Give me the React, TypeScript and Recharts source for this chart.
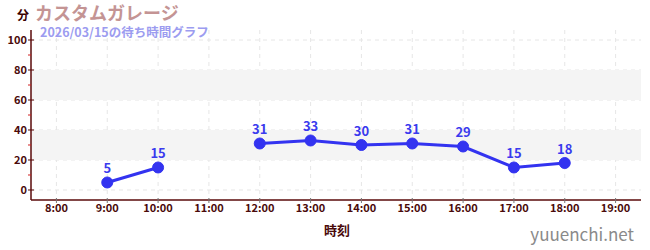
import { LineChart, Line, XAxis, YAxis, CartesianGrid, ReferenceArea, LabelList } from "recharts"

const hours = [8, 9, 10, 11, 12, 13, 14, 15, 16, 17, 18, 19]
const waits: (number | null)[] = [null, 5, 15, null, 31, 33, 30, 31, 29, 15, 18, null]
const yTicks = [0, 10, 20, 30, 40, 50, 60, 70, 80, 90, 100]
const yMajor = [0, 20, 40, 60, 80, 100]

const data = hours.map((h, i) => ({ hour: h, wait: waits[i] }))

const font = '"Noto Sans CJK JP", "Noto Sans", sans-serif'
const axisColor = "#5a0a0a"

const YTick = (props: any) => {
  const { x, y, payload } = props
  const v = payload.value
  const major = v % 20 === 0
  const ax = x + 8
  if (!major) {
    return <line x1={ax - 3} x2={ax} y1={y} y2={y} stroke="#d02020" strokeWidth={1} />
  }
  return (
    <g>
      <line x1={ax - 3} x2={ax + 3} y1={y} y2={y} stroke={axisColor} strokeWidth={1} />
      <text x={ax - 4} y={y} dy={4} textAnchor="end" fontSize={11} fontWeight="bold" fill="#4a0a0a" fontFamily={font}>
        {v}
      </text>
    </g>
  )
}

const XTick = (props: any) => {
  const { x, y, payload } = props
  const ay = y - 8
  return (
    <g>
      <line x1={x} x2={x} y1={ay - 2} y2={ay + 3} stroke="#777" strokeWidth={1} />
      <text x={x} y={ay + 12} textAnchor="middle" fontSize={11} fontWeight="bold" fill="#4a0a0a" fontFamily={font}>
        {payload.value}:00
      </text>
    </g>
  )
}

export default function App() {
  return (
    <div style={{ position: "absolute", left: 0, top: 0, width: 650, height: 250, background: "#fff", fontFamily: font }}>
      <LineChart width={650} height={250} data={data} margin={{ top: 30, right: 9, left: 0, bottom: 20 }}>
        <ReferenceArea y1={20} y2={40} fill="#f4f4f4" fillOpacity={1} stroke="none" />
        <ReferenceArea y1={60} y2={80} fill="#f4f4f4" fillOpacity={1} stroke="none" />
        <CartesianGrid
          stroke="#e6e6e6"
          strokeDasharray="4 4"
          horizontalValues={yMajor}
          verticalValues={hours}
        />
        <XAxis
          dataKey="hour"
          type="number"
          domain={[7.5, 19.5]}
          ticks={hours}
          interval={0}
          height={30}
          stroke={axisColor}
          strokeWidth={1.5}
          tickLine={false}
          tick={<XTick />}
        />
        <YAxis
          type="number"
          domain={[-6.67, 106.67]}
          ticks={yTicks}
          interval={0}
          width={31}
          stroke={axisColor}
          strokeWidth={1.5}
          tickLine={false}
          tick={<YTick />}
        />
        <Line
          dataKey="wait"
          stroke="#3333f0"
          strokeWidth={3}
          dot={{ r: 5.5, fill: "#3333f0", stroke: "#3333f0", strokeWidth: 1 }}
          activeDot={false}
          connectNulls={false}
          isAnimationActive={false}
        >
          <LabelList dataKey="wait" position="top" offset={9} fill="#3a3aee" fontSize={13} fontWeight="bold" fontFamily={font} />
        </Line>
        <text x={23} y={20} textAnchor="middle" fontSize={12} fontWeight="bold" fill="#3a0000" fontFamily={font}>分</text>
        <text x={35} y={20} fontSize={18} fontWeight="bold" fill="#c49494" fontFamily={font}>カスタムガレージ</text>
        <text x={40} y={37} fontSize={12.5} fontWeight="bold" fill="#9c9cf0" fontFamily={font}>2026/03/15の待ち時間グラフ</text>
        <text x={337} y={235} textAnchor="middle" fontSize={13} fontWeight="bold" fill="#4a0a0a" fontFamily={font}>時刻</text>
        <text x={634} y={241} textAnchor="end" fontSize={17} fill="#8a8a8a" fontFamily={font}>yuuenchi.net</text>
      </LineChart>
    </div>
  )
}
